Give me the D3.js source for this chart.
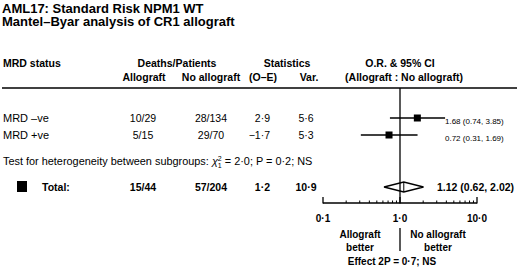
<!DOCTYPE html>
<html lang="en">
<head>
<meta charset="UTF-8">
<title>AML17 Mantel-Byar forest plot</title>
<script src="https://cdnjs.cloudflare.com/ajax/libs/d3/7.8.5/d3.min.js"></script>
<style>
    body { margin: 0; background: #fff; }
    svg { font-family: "Liberation Sans", Arial, sans-serif; fill: #000; }
</style>
</head>
<body>
<div id="chart"></div>
<script>
// data
const groups = ["MRD \u2013ve", "MRD +ve"];
const deathsAllo = ["10/29", "5/15"];
const deathsNoAllo = ["28/134", "29/70"];
const oMinusE = ["2\u00b79", "\u22121\u00b77"];
const variance = ["5\u00b76", "5\u00b73"];
const orValue = [1.68, 0.72];
const ciLow = [0.74, 0.31];
const ciHigh = [3.85, 1.69];

const totalAllo = "15/44";
const totalNoAllo = "57/204";
const totalOE = "1\u00b72";
const totalVar = "10\u00b79";
const totalOR = 1.12, totalLow = 0.62, totalHigh = 2.02;

const axisTicks = [0.1, 1, 10];
const tickLabels = ["0\u00b71", "1\u00b70", "10\u00b70"];
const minorTicks = [0.2, 0.3, 0.4, 0.5, 0.6, 0.7, 0.8, 0.9, 2, 3, 4, 5, 6, 7, 8, 9];

const W = 520, H = 273;
const svg = d3.select("#chart").append("svg").attr("width", W).attr("height", H);

const x = d3.scaleLog().domain([0.1, 10]).range([323, 477]);
const y = d3.scalePoint().domain(groups).range([118, 135]);
const yTotal = 187, yAxis = 203, yHeader = 88;
const fmt = d3.format(".2f");

function txt(xp, yp, s, size, bold, anchor) {
    return svg.append("text")
        .attr("x", xp).attr("y", yp)
        .attr("font-size", size)
        .attr("font-weight", bold ? "bold" : "normal")
        .attr("text-anchor", anchor || "start")
        .text(s);
}

// titles
txt(2, 12.5, "AML17: Standard Risk NPM1 WT", 13, true);
txt(2, 26, "Mantel\u2013Byar analysis of CR1 allograft", 13, true);

// header
txt(3, 67, "MRD status", 10.5, true);
txt(177, 67, "Deaths/Patients", 10.5, true, "middle");
txt(144, 81, "Allograft", 10.5, true, "middle");
txt(211, 81, "No allograft", 10.5, true, "middle");
txt(287, 67, "Statistics", 10.5, true, "middle");
txt(263, 81, "(O\u2013E)", 10.5, true, "middle");
txt(309, 81, "Var.", 10.5, true, "middle");
txt(400, 67, "O.R. & 95% CI", 10.5, true, "middle");
txt(404, 81, "(Allograft : No allograft)", 10.5, true, "middle");

svg.append("line").attr("x1", 2).attr("x2", 517).attr("y1", yHeader).attr("y2", yHeader)
    .attr("stroke", "#000").attr("stroke-width", 1.5);

// subgroup rows
groups.forEach((g, i) => {
    const yy = y(g);
    txt(3, yy + 4, g, 11);
    txt(143, yy + 4, deathsAllo[i], 10.5, false, "middle");
    txt(211, yy + 4, deathsNoAllo[i], 10.5, false, "middle");
    txt(270, yy + 4, oMinusE[i], 10.5, false, "end");
    txt(306, yy + 4, variance[i], 10.5, false, "middle");

    svg.append("line")
        .attr("x1", x(ciLow[i])).attr("x2", x(ciHigh[i]))
        .attr("y1", yy).attr("y2", yy)
        .attr("stroke", "#000").attr("stroke-width", 1.3);
    svg.append("rect")
        .attr("x", x(orValue[i]) - 3.5).attr("y", yy - 3.5)
        .attr("width", 7).attr("height", 7).attr("fill", "#000");
    txt(445, yy + 6, `${fmt(orValue[i])} (${fmt(ciLow[i])}, ${fmt(ciHigh[i])})`, 8);
});

// heterogeneity
const het = txt(3, 165, "", 10.9);
het.append("tspan").text("Test for heterogeneity between subgroups: ");
het.append("tspan").attr("font-style", "italic").text("\u03c7");
het.append("tspan").attr("font-size", 7).attr("dy", -4).text("2");
het.append("tspan").attr("font-size", 7).attr("dx", -3.9).attr("dy", 7).text("1");
het.append("tspan").attr("dy", -3).text(" = 2\u00b70; P = 0\u00b72; NS");

// total row
svg.append("rect").attr("x", 17).attr("y", 181).attr("width", 10).attr("height", 11).attr("fill", "#000");
txt(42, yTotal + 4, "Total:", 10.5, true);
txt(143, yTotal + 4, totalAllo, 10.5, true, "middle");
txt(211, yTotal + 4, totalNoAllo, 10.5, true, "middle");
txt(270, yTotal + 4, totalOE, 10.5, true, "end");
txt(306, yTotal + 4, totalVar, 10.5, true, "middle");

const dh = 5;
svg.append("polygon")
    .attr("points", [
        [x(totalLow), yTotal], [x(totalOR), yTotal - dh],
        [x(totalHigh), yTotal], [x(totalOR), yTotal + dh]
    ].map(p => p.join(",")).join(" "))
    .attr("fill", "#fff").attr("stroke", "#000").attr("stroke-width", 1.3);
svg.append("line").attr("x1", x(totalOR)).attr("x2", x(totalOR))
    .attr("y1", yTotal - dh).attr("y2", yTotal + dh)
    .attr("stroke", "#000").attr("stroke-width", 1);
txt(437, yTotal + 4, `${fmt(totalOR)} (${fmt(totalLow)}, ${fmt(totalHigh)})`, 10.5, true);

// reference line at 1
svg.append("line").attr("x1", x(1)).attr("x2", x(1)).attr("y1", yHeader).attr("y2", yAxis)
    .attr("stroke", "#000").attr("stroke-width", 1.3);

// axis
svg.append("line").attr("x1", x(0.1)).attr("x2", x(10)).attr("y1", yAxis).attr("y2", yAxis)
    .attr("stroke", "#000").attr("stroke-width", 1.3);
svg.selectAll(".major").data(axisTicks).enter().append("line")
    .attr("x1", d => x(d)).attr("x2", d => x(d))
    .attr("y1", yAxis - 6).attr("y2", yAxis + 0.6)
    .attr("stroke", "#000").attr("stroke-width", 1.3);
svg.selectAll(".minor").data(minorTicks).enter().append("line")
    .attr("x1", d => x(d)).attr("x2", d => x(d))
    .attr("y1", yAxis - 2.5).attr("y2", yAxis)
    .attr("stroke", "#000").attr("stroke-width", 1);
axisTicks.forEach((t, i) => txt(x(t), 222, tickLabels[i], 10, true, "middle"));

// direction labels
svg.append("line").attr("x1", x(1)).attr("x2", x(1)).attr("y1", 228).attr("y2", 251)
    .attr("stroke", "#000").attr("stroke-width", 1.3);
txt(360, 238, "Allograft", 10, true, "middle");
txt(360, 251, "better", 10, true, "middle");
txt(438, 238, "No allograft", 10, true, "middle");
txt(438, 251, "better", 10, true, "middle");
txt(392, 265, "Effect 2P = 0\u00b77; NS", 10, true, "middle");
</script>
</body>
</html>
